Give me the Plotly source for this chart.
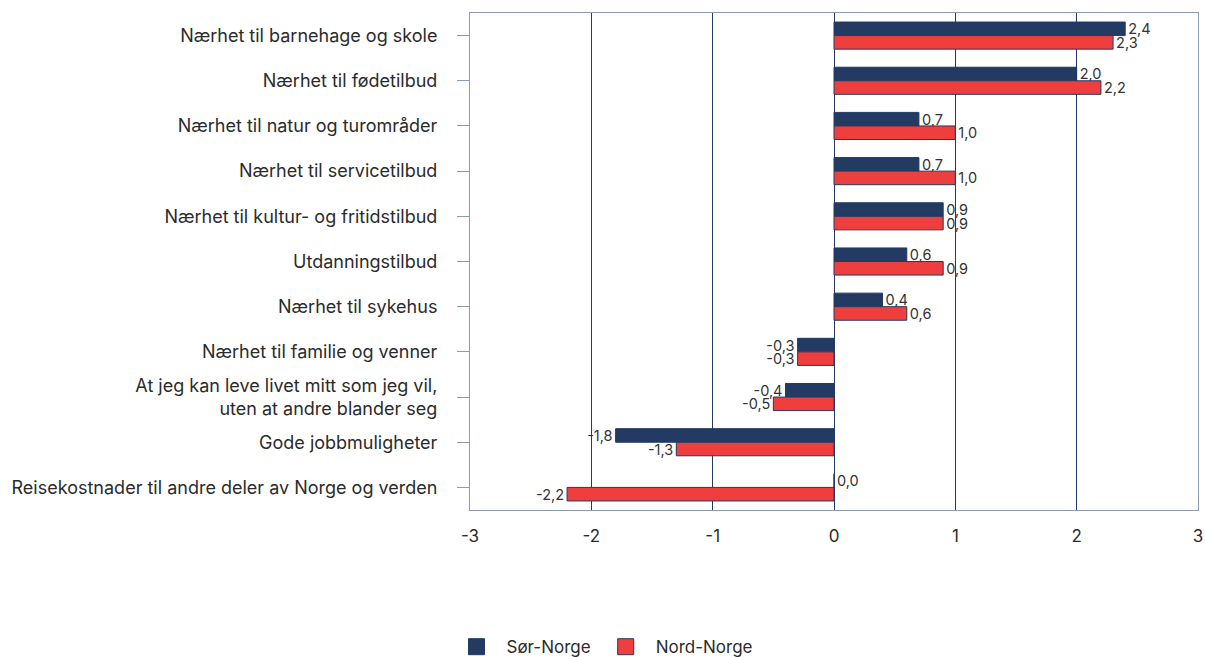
import plotly.graph_objects as go

categories = [
    "Nærhet til barnehage og skole",
    "Nærhet til fødetilbud",
    "Nærhet til natur og turområder",
    "Nærhet til servicetilbud",
    "Nærhet til kultur- og fritidstilbud",
    "Utdanningstilbud",
    "Nærhet til sykehus",
    "Nærhet til familie og venner",
    "At jeg kan leve livet mitt som jeg vil,<br>uten at andre blander seg",
    "Gode jobbmuligheter",
    "Reisekostnader til andre deler av Norge og verden",
]
sor_norge = [2.4, 2.0, 0.7, 0.7, 0.9, 0.6, 0.4, -0.3, -0.4, -1.8, 0.0]
nord_norge = [2.3, 2.2, 1.0, 1.0, 0.9, 0.9, 0.6, -0.3, -0.5, -1.3, -2.2]
x_ticks = [-3, -2, -1, 0, 1, 2, 3]

navy = "#233a63"
red = "#ef3e3e"
frame = "#8c9ab5"
font = "Inter"


def fmt(v):
    return f"{v:.1f}".replace(".", ",")


fig = go.Figure()
for name, vals, color in [("Sør-Norge", sor_norge, navy), ("Nord-Norge", nord_norge, red)]:
    fig.add_trace(go.Bar(y=categories, x=vals, orientation="h", name=name, showlegend=False,
                         marker=dict(color=color, line=dict(color=navy, width=1)),
                         text=[fmt(v) for v in vals], textposition="outside",
                         constraintext="none", cliponaxis=False,
                         textfont=dict(size=14.5, color="#333")))
    # legend swatch
    fig.add_trace(go.Scatter(x=[None], y=[None], mode="markers", name=name,
                             marker=dict(symbol="square", size=22, color=color,
                                         line=dict(color=navy, width=1))))

fig.update_layout(
    width=1205, height=657, barmode="group", bargap=0.4, bargroupgap=0,
    font=dict(family=font, size=18, color="#2b2b2b"),
    paper_bgcolor="white", plot_bgcolor="white",
    margin=dict(l=470, r=7, t=13, b=147),
    legend=dict(orientation="h", xref="container", x=0.5, xanchor="center",
                yref="container", y=0.015, yanchor="middle",
                font=dict(size=17), itemwidth=50, traceorder="normal"),
)
fig.update_xaxes(range=[-3, 3], tickvals=x_ticks, ticktext=[str(t) for t in x_ticks],
                 showgrid=True, gridcolor=navy, gridwidth=1,
                 zeroline=True, zerolinecolor=navy, zerolinewidth=1,
                 showline=True, linecolor=frame, mirror=True, ticks="",
                 tickfont=dict(size=17), ticklabelstandoff=11, automargin=False)
fig.update_yaxes(autorange="reversed", showline=True, linecolor=frame, mirror=True,
                 ticks="outside", ticklen=12, tickcolor=frame, tickfont=dict(size=18),
                 ticklabelstandoff=16, automargin=False)

fig.write_html("out.html", config={"displayModeBar": False},
               post_script="document.body.style.margin='0';")
